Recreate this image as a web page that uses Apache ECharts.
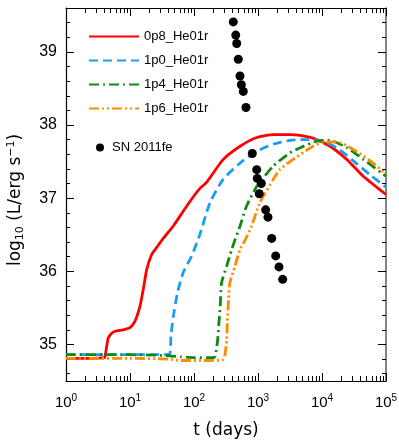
<!DOCTYPE html>
<html>
<head>
<meta charset="utf-8">
<script src="https://cdn.jsdelivr.net/npm/echarts@6/dist/echarts.min.js"></script>
<style>
html, body { margin: 0; padding: 0; background: #fff; }
#main { width: 399px; height: 444px; }
</style>
</head>
<body>
<div id="main"></div>
<script>
// t in days, L = log10 of luminance in erg/s
var t_0p8 = [1, 2, 4, 4.12, 4.37, 4.58, 5.13, 5.83, 7.85, 10, 12, 14.3, 16.1, 18.2, 21.8, 26.3, 33.1, 47.5, 76.7, 120, 158, 287, 525, 955, 1740, 3160, 4570, 7240, 13300, 24300, 44200, 100000];
var L_0p8 = [34.81, 34.81, 34.82, 34.86, 35.0, 35.09, 35.15, 35.18, 35.2, 35.23, 35.32, 35.52, 35.75, 36.02, 36.23, 36.33, 36.45, 36.62, 36.89, 37.12, 37.22, 37.53, 37.71, 37.83, 37.87, 37.87, 37.86, 37.82, 37.71, 37.53, 37.3, 37.05];

var t_1p0 = [1, 10, 31.6, 41.7, 43.6, 47.5, 55, 67.6, 92, 123, 178, 287, 525, 955, 1740, 3160, 4570, 9330, 17000, 30900, 56200, 100000];
var L_1p0 = [34.86, 34.86, 34.86, 34.87, 35.11, 35.38, 35.7, 35.98, 36.21, 36.5, 36.94, 37.26, 37.48, 37.64, 37.74, 37.79, 37.8, 37.79, 37.69, 37.51, 37.32, 37.15];

var t_1p4 = [1, 10, 31.6, 63, 100, 200, 214, 234, 245, 257, 269, 324, 389, 437, 525, 661, 955, 1740, 3160, 4570, 8320, 13300, 24500, 44200, 100000];
var L_1p4 = [34.86, 34.86, 34.85, 34.83, 34.82, 34.82, 34.84, 35.06, 35.29, 35.52, 35.84, 36.07, 36.3, 36.43, 36.62, 36.89, 37.16, 37.44, 37.62, 37.69, 37.78, 37.79, 37.69, 37.53, 37.3];

var t_1p6 = [1, 10, 39.8, 63, 158, 282, 302, 324, 331, 347, 363, 437, 525, 631, 794, 1070, 1740, 2190, 3160, 7240, 11700, 19100, 34700, 63100, 100000];
var L_1p6 = [34.81, 34.81, 34.8, 34.78, 34.78, 34.79, 34.84, 35.06, 35.29, 35.61, 35.84, 36.07, 36.3, 36.43, 36.62, 36.94, 37.26, 37.39, 37.5, 37.71, 37.77, 37.76, 37.64, 37.48, 37.33];

var t_sn = [411, 449, 465, 492, 523, 549, 589, 649, 815, 955, 975, 1127, 1047, 1318, 1432, 1637, 1891, 2130, 2432];
var L_sn = [39.41, 39.23, 39.115, 38.9, 38.67, 38.55, 38.46, 38.24, 37.61, 37.39, 37.27, 37.2, 37.06, 36.84, 36.74, 36.45, 36.21, 36.06, 35.89];

var seriesNames = ['0p8_He01r', '1p0_He01r', '1p4_He01r', '1p6_He01r'];
var snName = 'SN 2011fe';

var yTicks = [35, 36, 37, 38, 39];
var yMinorTicks = [34.6, 34.8, 35.2, 35.4, 35.6, 35.8, 36.2, 36.4, 36.6, 36.8, 37.2, 37.4, 37.6, 37.8, 38.2, 38.4, 38.6, 38.8, 39.2, 39.4];

function pairs(t, L) {
    return t.map(function (v, i) { return [v, L[i]]; });
}

var sansFont = 'Liberation Sans';
var titleFont = 'DejaVu Sans';

function lineSeries(name, t, L, color, dash) {
    return {
        name: name,
        type: 'line',
        xAxisIndex: 0,
        yAxisIndex: 0,
        symbol: 'none',
        smooth: 0.2,
        data: pairs(t, L),
        lineStyle: { color: color, width: 2.8, type: dash },
        itemStyle: { color: color }
    };
}

var chartDom = document.getElementById('main');
var myChart = echarts.init(chartDom);
var option;

var frameLine = { show: true, onZero: false, lineStyle: { color: '#000', width: 1.2 } };
var noLine = { show: false, onZero: false };
var xMinor = { show: true, splitNumber: 9, length: 5, lineStyle: { color: '#000', width: 1 } };

option = {
    animation: false,
    grid: { left: 66, right: 13, top: 8, bottom: 63, outerBoundsMode: 'none' },
    legend: [
        {
            data: seriesNames,
            orient: 'vertical',
            left: 88,
            top: 30,
            padding: 0,
            itemWidth: 50,
            itemHeight: 14,
            itemGap: 11,
            itemStyle: { opacity: 0 },
            textStyle: { fontFamily: sansFont, fontSize: 13, color: '#000' }
        },
        {
            data: [snName],
            left: 96,
            top: 141,
            padding: 0,
            itemWidth: 8,
            itemHeight: 8,
            textStyle: { fontFamily: sansFont, fontSize: 13, color: '#000', padding: [0, 0, 0, 3] }
        }
    ],
    xAxis: [
        {
            type: 'log',
            min: 1,
            max: 100000,
            position: 'bottom',
            axisLine: frameLine,
            axisTick: { inside: true, length: 8, lineStyle: { color: '#000' } },
            minorTick: xMinor,
            splitLine: { show: false },
            axisLabel: {
                margin: 12,
                formatter: function (v) {
                    var e = Math.round(Math.log10(v));
                    return '{b|10}{s|' + e + '}';
                },
                rich: {
                    b: { fontFamily: sansFont, fontSize: 15, color: '#000' },
                    s: { fontFamily: sansFont, fontSize: 10, color: '#000', padding: [0, 0, 9, 0] }
                }
            },
            name: 't (days)',
            nameLocation: 'middle',
            nameGap: 41,
            nameTextStyle: { fontFamily: titleFont, fontSize: 17, color: '#000' }
        },
        {
            type: 'log',
            min: 1,
            max: 100000,
            position: 'top',
            axisLine: frameLine,
            axisTick: { inside: true, length: 8, lineStyle: { color: '#000' } },
            minorTick: xMinor,
            splitLine: { show: false },
            axisLabel: { show: false }
        }
    ],
    yAxis: [
        {
            type: 'value',
            min: 34.5,
            max: 39.6,
            position: 'left',
            axisLine: frameLine,
            axisTick: { inside: true, length: 8, customValues: yTicks, lineStyle: { color: '#000' } },
            splitLine: { show: false },
            axisLabel: {
                customValues: yTicks,
                margin: 9,
                fontFamily: sansFont,
                fontSize: 16,
                color: '#000'
            },
            name: '{n|log}{sub|10}{n| (L/erg s}{sup|\u22121}{n|)}',
            nameLocation: 'middle',
            nameGap: 40,
            nameTextStyle: {
                padding: [0, 11, 0, 0],
                rich: {
                    n: { fontFamily: titleFont, fontSize: 17, color: '#000' },
                    sub: { fontFamily: titleFont, fontSize: 11, color: '#000', padding: [8, 0, 0, 0] },
                    sup: { fontFamily: titleFont, fontSize: 11, color: '#000', padding: [0, 0, 9, 0] }
                }
            }
        },
        {
            type: 'value',
            min: 34.5,
            max: 39.6,
            position: 'right',
            offset: 0,
            axisLine: { show: true, onZero: false, lineStyle: { color: '#666', width: 1.6 } },
            axisTick: { inside: true, length: 8, customValues: yTicks, lineStyle: { color: '#000' } },
            splitLine: { show: false },
            axisLabel: { show: false }
        },
        {
            type: 'value',
            min: 34.5,
            max: 39.6,
            position: 'left',
            offset: 0,
            axisLine: noLine,
            axisTick: { inside: true, length: 4, customValues: yMinorTicks, lineStyle: { color: '#000' } },
            splitLine: { show: false },
            axisLabel: { show: false }
        },
        {
            type: 'value',
            min: 34.5,
            max: 39.6,
            position: 'right',
            offset: 0,
            axisLine: noLine,
            axisTick: { inside: true, length: 4, customValues: yMinorTicks, lineStyle: { color: '#000' } },
            splitLine: { show: false },
            axisLabel: { show: false }
        }
    ],
    series: [
        lineSeries(seriesNames[0], t_0p8, L_0p8, '#ff0000', 'solid'),
        lineSeries(seriesNames[1], t_1p0, L_1p0, '#1a9ff0', [9, 5]),
        lineSeries(seriesNames[2], t_1p4, L_1p4, '#118a11', [10, 4, 2, 4]),
        lineSeries(seriesNames[3], t_1p6, L_1p6, '#ff8c00', [10, 3, 2, 3, 2, 3]),
        {
            name: snName,
            type: 'scatter',
            xAxisIndex: 0,
            yAxisIndex: 0,
            symbol: 'circle',
            symbolSize: 9,
            itemStyle: { color: '#000', opacity: 1 },
            data: pairs(t_sn, L_sn),
            z: 5
        }
    ]
};

option && myChart.setOption(option);
</script>
</body>
</html>
